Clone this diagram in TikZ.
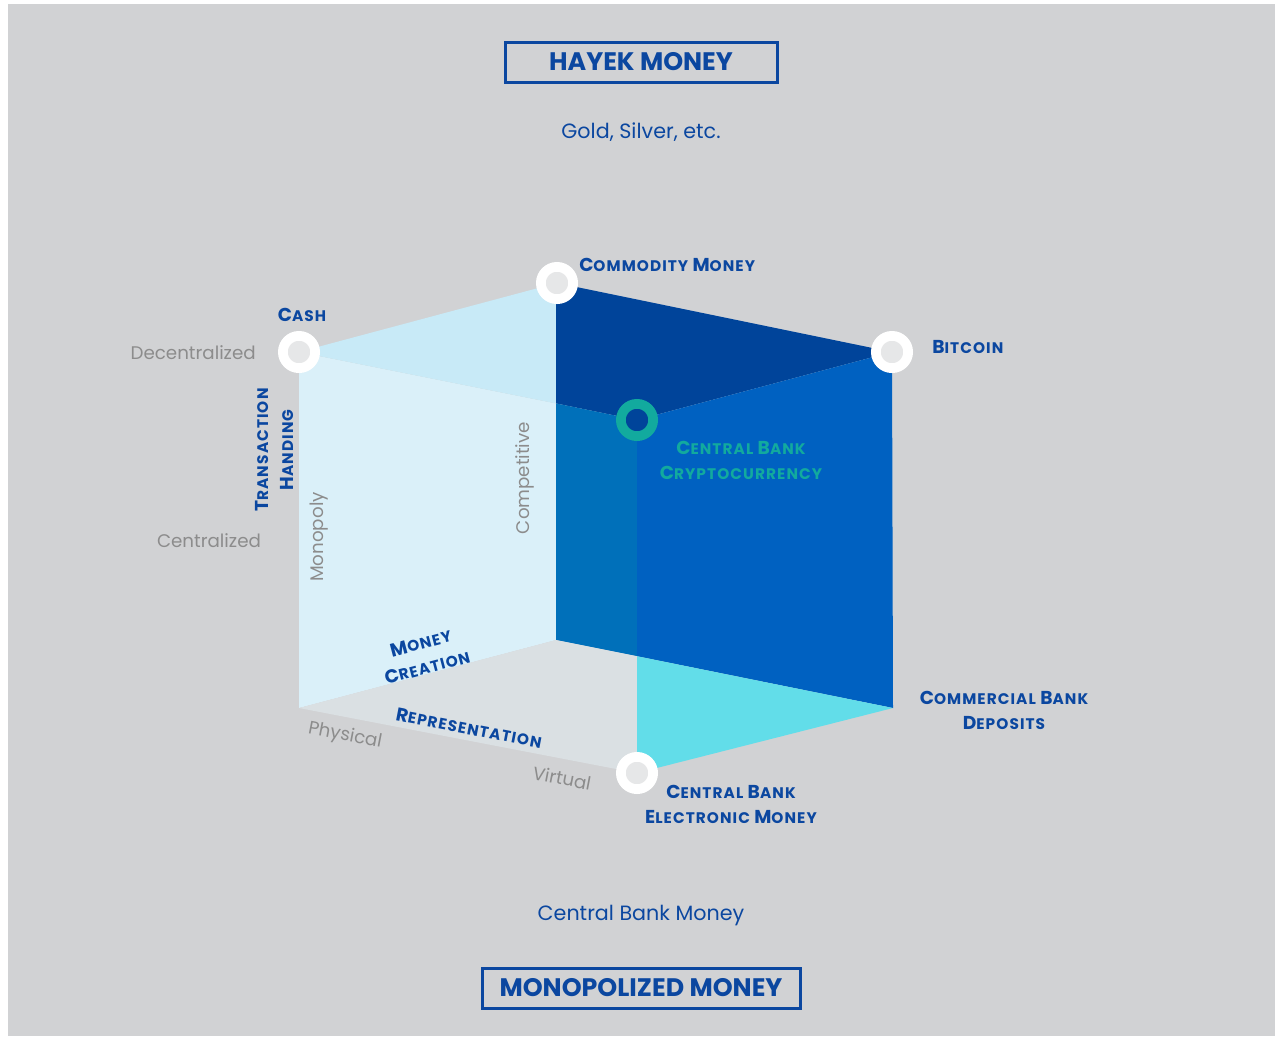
\documentclass[tikz,border=0pt]{standalone}
\usepackage{fontspec}
\setmainfont{Poppins}
\newfontfamily\labfont[LetterSpace=7]{Poppins}
\definecolor{bg}{HTML}{D1D2D4}
\definecolor{tl}{HTML}{C8EAF7}
\definecolor{lf}{HTML}{DAF0F9}
\definecolor{dk}{HTML}{00449A}
\definecolor{md}{HTML}{0070BA}
\definecolor{rt}{HTML}{0061C1}
\definecolor{fl}{HTML}{DAE0E3}
\definecolor{cy}{HTML}{62DDE9}
\definecolor{tb}{HTML}{0B47A0}
\definecolor{teal}{HTML}{12AA9E}
\definecolor{gt}{HTML}{8C8C8C}
\definecolor{ring}{HTML}{E6E7E8}
\newcommand{\bc}[1]{{\fontsize{14}{14}\selectfont #1}}
\tikzset{
  lab/.style={text=tb, font=\labfont\bfseries\fontsize{11.5}{18.75}\selectfont, inner sep=0pt, align=center},
  gray/.style={text=gt, font=\fontsize{13.7}{15}\selectfont, inner sep=0pt},
  plain/.style={text=tb, font=\fontsize{15.5}{17}\selectfont, inner sep=0pt},
  titlebox/.style={draw=tb, line width=2.25pt, text=tb, font=\bfseries\fontsize{19}{19}\selectfont, inner sep=0pt},
  wring/.style={circle, fill=ring, draw=white, line width=7.3pt, minimum size=24.2pt, inner sep=0pt},
  tring/.style={circle, fill=dk, draw=teal, line width=7.3pt, minimum size=24.2pt, inner sep=0pt}
}
\begin{document}
\begin{tikzpicture}[x=0.75pt, y=-0.75pt]
\useasboundingbox (0,0) rectangle (1275,1036);
\fill[white] (0,0) rectangle (1275,1036);
\fill[bg] (8,4) rectangle (1275,1036);
% cube corners
\coordinate (A) at (299,352);   % cash
\coordinate (B) at (557,283);   % commodity
\coordinate (C) at (892,352);   % bitcoin
\coordinate (D) at (637,420);   % cbc
\coordinate (E) at (299,708);   % front-left bottom
\coordinate (F) at (556,640);   % inner bottom
\coordinate (G) at (893,708);   % commercial bank deposits
\coordinate (H) at (637,773);   % cbe
\coordinate (P) at (556,403.4);
\coordinate (Q) at (637,656.2);
% faces
\fill[lf] (A) -- (P) -- (F) -- (E) -- cycle;
\fill[tl] (A) -- (B) -- (556,283) -- (P) -- cycle;
\fill[dk] (B) -- (C) -- (D) -- (P) -- (556,283) -- cycle;
\fill[md] (P) -- (D) -- (Q) -- (F) -- cycle;
\fill[rt] (D) -- (C) -- (G) -- (Q) -- cycle;
\fill[fl] (E) -- (F) -- (Q) -- (H) -- cycle;
\fill[cy] (Q) -- (G) -- (H) -- cycle;
% rings
\node[wring] (cash) at (A) {};
\node[wring] (comm) at (B) {};
\node[wring] (btc) at (C) {};
\node[tring] (cbc) at (D) {};
\node[wring] (cbe) at (H) {};
% titles
\node[titlebox, minimum width=204pt, minimum height=30pt] (hayek) at (641,62) {HAYEK MONEY};
\node[plain] (gold) at (641,132) {Gold, Silver, etc.};
\node[plain] (cbm) at (641,916) {Central Bank Money};
\node[titlebox, minimum width=238.5pt, minimum height=30pt] (mono) at (641,988) {MONOPOLIZED MONEY};
% labels
\node[lab, anchor=west] (lcomm) at (579,265) {\bc{C}OMMODITY \bc{M}ONEY};
\node[lab] (lcash) at (302,315) {\bc{C}ASH};
\node[lab, anchor=west] (lbtc) at (932,347) {\bc{B}ITCOIN};
\node[lab, text=teal] (lcbc) at (741,460) {\bc{C}ENTRAL \bc{B}ANK\\\bc{C}RYPTOCURRENCY};
\node[lab, rotate=90] (ltx) at (274,450) {\bc{T}RANSACTION\\\bc{H}ANDING};
\node[lab, rotate=14.8] (lmc) at (424,655) {\bc{M}ONEY\\\bc{C}REATION};
\node[lab, rotate=-10.9] (lrep) at (469,728) {\bc{R}EPRESENTATION};
\node[lab] (lcbd) at (1004,710) {\bc{C}OMMERCIAL \bc{B}ANK\\\bc{D}EPOSITS};
\node[lab] (lcbe) at (731,804) {\bc{C}ENTRAL \bc{B}ANK\\\bc{E}LECTRONIC \bc{M}ONEY};
% gray axis labels
\node[gray, anchor=east] (dec) at (256,353) {Decentralized};
\node[gray] (cen) at (209,541) {Centralized};
\node[gray, rotate=90] (mon) at (319,537) {Monopoly};
\node[gray, rotate=90] (comp) at (525,478) {Competitive};
\node[gray, rotate=-10.9] (phy) at (345,736) {Physical};
\node[gray, rotate=-10.9] (vir) at (562,778) {Virtual};
\end{tikzpicture}
\end{document}
